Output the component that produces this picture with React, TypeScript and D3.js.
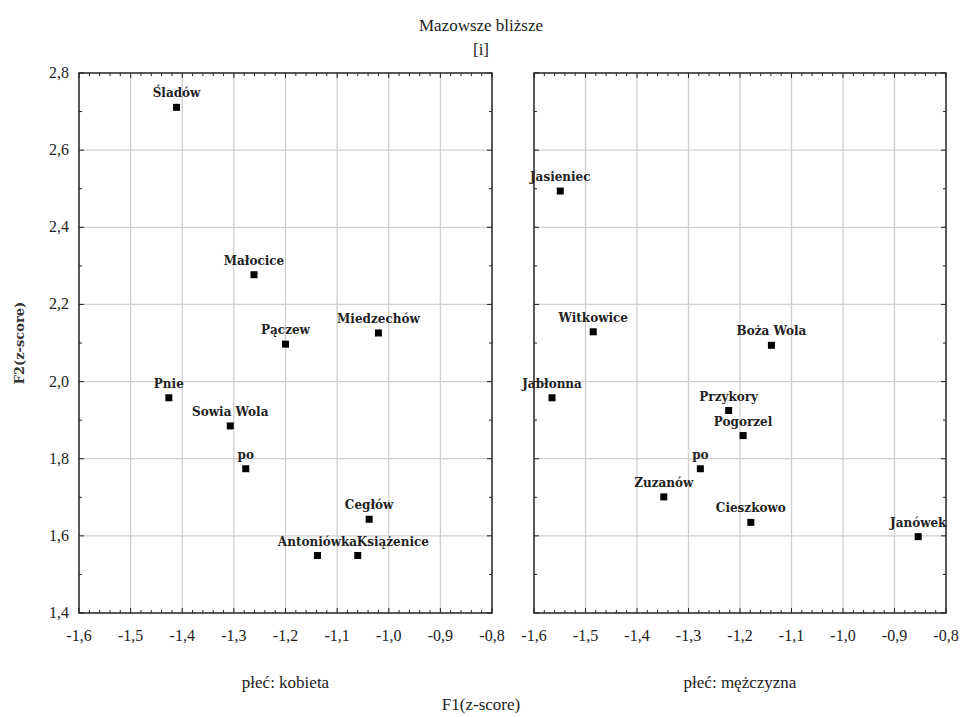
import React, { useRef, useEffect } from 'react';
import * as d3 from 'd3';

// kobieta panel
const womenNames = ['Śladów', 'Małocice', 'Pączew', 'Miedzechów', 'Pnie', 'Sowia Wola', 'po', 'Cegłów', 'Antoniówka', 'Książenice'];
const womenF1 = [-1.411, -1.261, -1.200, -1.020, -1.426, -1.307, -1.277, -1.038, -1.138, -1.060];
const womenF2 = [2.711, 2.277, 2.097, 2.126, 1.958, 1.885, 1.774, 1.643, 1.549, 1.549];

// mężczyzna panel
const menNames = ['Jasieniec', 'Witkowice', 'Boża Wola', 'Jabłonna', 'Przykory', 'Pogorzel', 'po', 'Zuzanów', 'Cieszkowo', 'Janówek'];
const menF1 = [-1.549, -1.485, -1.139, -1.565, -1.222, -1.194, -1.277, -1.348, -1.179, -0.854];
const menF2 = [2.494, 2.129, 2.094, 1.958, 1.925, 1.860, 1.774, 1.701, 1.635, 1.598];

const xTicks = [-1.6, -1.5, -1.4, -1.3, -1.2, -1.1, -1.0, -0.9, -0.8];
const yTicks = [1.4, 1.6, 1.8, 2.0, 2.2, 2.4, 2.6, 2.8];
const panelTitles = ['płeć: kobieta', 'płeć: mężczyzna'];

const fmt = (v: number) => v.toFixed(1).replace('.', ',');

const App = () => {
  const svgRef = useRef<SVGSVGElement>(null);

  useEffect(() => {
    const width = 962;
    const height = 717;
    const svg = d3.select(svgRef.current)
      .attr('width', width)
      .attr('height', height)
      .html('');

    const font = "'Liberation Serif', 'DejaVu Serif', serif";
    const labelFont = "'DejaVu Serif', serif";
    const top = 73;
    const bottom = 613;
    const panels = [
      { left: 79, right: 492, names: womenNames, xs: womenF1, ys: womenF2, title: panelTitles[0] },
      { left: 534, right: 946, names: menNames, xs: menF1, ys: menF2, title: panelTitles[1] }
    ];

    const y = d3.scaleLinear().domain([1.4, 2.8]).range([bottom, top]);

    panels.forEach((p, pi) => {
      const x = d3.scaleLinear().domain([-1.6, -0.8]).range([p.left, p.right]);
      const g = svg.append('g');

      // grid
      g.selectAll('line.gx')
        .data(xTicks.slice(1, -1))
        .join('line')
        .attr('x1', d => x(d)).attr('x2', d => x(d))
        .attr('y1', top).attr('y2', bottom)
        .attr('stroke', '#cfcfcf').attr('stroke-width', 1.3);
      g.selectAll('line.gy')
        .data(yTicks.slice(1, -1))
        .join('line')
        .attr('y1', d => y(d)).attr('y2', d => y(d))
        .attr('x1', p.left).attr('x2', p.right)
        .attr('stroke', '#cfcfcf').attr('stroke-width', 1.3);

      // minor / major ticks on all sides (inside)
      const xMinor = d3.range(-1.6, -0.799, 0.02);
      xMinor.forEach((v, i) => {
        const len = i % 5 === 0 ? 5 : 3;
        g.append('line').attr('x1', x(v)).attr('x2', x(v)).attr('y1', top).attr('y2', top + len)
          .attr('stroke', '#222').attr('stroke-width', 1);
        g.append('line').attr('x1', x(v)).attr('x2', x(v)).attr('y1', bottom).attr('y2', bottom - len)
          .attr('stroke', '#222').attr('stroke-width', 1);
      });
      const yMinor = d3.range(1.4, 2.801, 0.1);
      yMinor.forEach((v, i) => {
        const len = i % 2 === 0 ? 5 : 3;
        g.append('line').attr('y1', y(v)).attr('y2', y(v)).attr('x1', p.left).attr('x2', p.left + len)
          .attr('stroke', '#222').attr('stroke-width', 1);
        g.append('line').attr('y1', y(v)).attr('y2', y(v)).attr('x1', p.right).attr('x2', p.right - len)
          .attr('stroke', '#222').attr('stroke-width', 1);
      });

      // frame
      g.append('rect')
        .attr('x', p.left).attr('y', top)
        .attr('width', p.right - p.left).attr('height', bottom - top)
        .attr('fill', 'none').attr('stroke', '#222').attr('stroke-width', 1.5);

      // x tick labels
      g.selectAll('text.xt')
        .data(xTicks)
        .join('text')
        .attr('x', d => x(d)).attr('y', 641)
        .attr('text-anchor', 'middle')
        .attr('font-family', font).attr('font-size', 16)
        .attr('fill', '#222')
        .text(d => fmt(d));

      // y tick labels (left panel only)
      if (pi === 0) {
        g.selectAll('text.yt')
          .data(yTicks)
          .join('text')
          .attr('x', p.left - 10).attr('y', d => y(d) + 5)
          .attr('text-anchor', 'end')
          .attr('font-family', font).attr('font-size', 16)
          .attr('fill', '#222')
          .text(d => fmt(d));
      }

      // points
      const pts = p.names.map((n, i) => ({ n, fx: p.xs[i], fy: p.ys[i] }));
      g.selectAll('rect.pt')
        .data(pts)
        .join('rect')
        .attr('x', d => x(d.fx) - 3.5).attr('y', d => y(d.fy) - 3.5)
        .attr('width', 7).attr('height', 7)
        .attr('fill', '#000');
      g.selectAll('text.lb')
        .data(pts)
        .join('text')
        .attr('x', d => x(d.fx) + (d.n === 'Książenice' ? -1 : 0))
        .attr('y', d => y(d.fy) - 10)
        .attr('text-anchor', d => (d.n === 'Książenice' ? 'start' : 'middle'))
        .attr('font-family', labelFont).attr('font-size', 12)
        .attr('font-weight', 'bold')
        .attr('fill', '#222')
        .text(d => d.n);

      // panel title
      g.append('text')
        .attr('x', (p.left + p.right) / 2).attr('y', 688)
        .attr('text-anchor', 'middle')
        .attr('font-family', font).attr('font-size', 17)
        .attr('fill', '#222')
        .text(p.title);
    });

    // titles
    svg.append('text').attr('x', 481).attr('y', 31).attr('text-anchor', 'middle')
      .attr('font-family', font).attr('font-size', 17).attr('fill', '#222').text('Mazowsze bliższe');
    svg.append('text').attr('x', 481).attr('y', 55).attr('text-anchor', 'middle')
      .attr('font-family', font).attr('font-size', 17).attr('fill', '#222').text('[i]');
    svg.append('text').attr('x', 481).attr('y', 710).attr('text-anchor', 'middle')
      .attr('font-family', font).attr('font-size', 17).attr('fill', '#222').text('F1(z-score)');
    svg.append('text')
      .attr('transform', `translate(24,${(top + bottom) / 2}) rotate(-90)`)
      .attr('text-anchor', 'middle')
      .attr('font-family', labelFont).attr('font-size', 13).attr('font-weight', 'bold')
      .attr('fill', '#333').text('F2(z-score)');
  }, []);

  return <svg ref={svgRef} style={{ position: 'absolute', left: 0, top: 0 }} />;
};

export default App;
